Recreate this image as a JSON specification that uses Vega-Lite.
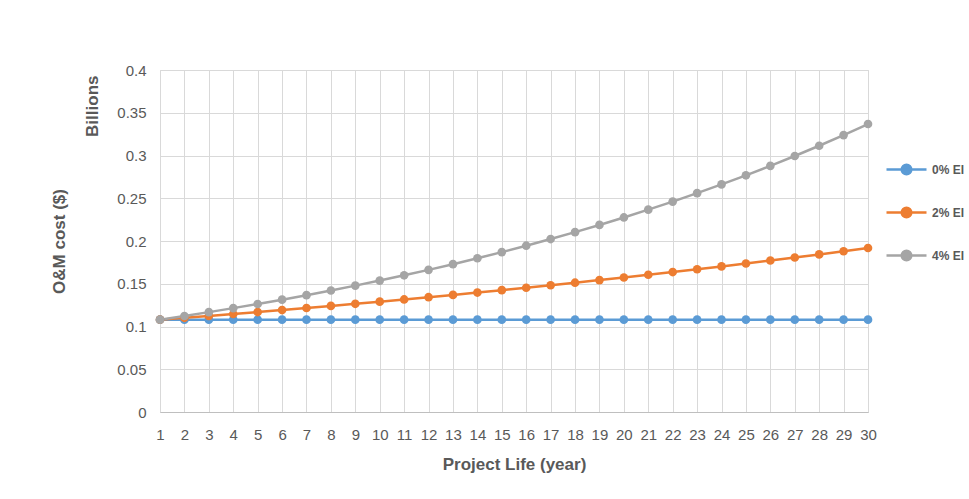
{
  "$schema": "https://vega.github.io/schema/vega-lite/v6.json",
  "width": 708,
  "height": 342,
  "autosize": {"type": "none"},
  "padding": {"left": 160, "top": 70, "right": 101, "bottom": 87},
  "background": "white",
  "config": {
    "font": "Liberation Sans",
    "view": {"stroke": "#d9d9d9", "strokeWidth": 1},
    "axis": {
      "labelColor": "#595959",
      "titleColor": "#595959",
      "labelFontSize": 15,
      "titleFontSize": 17,
      "titleFontWeight": "bold",
      "gridColor": "#d9d9d9",
      "gridWidth": 1,
      "ticks": false
    }
  },
  "data": {
    "values": [
      {"year": 1, "0% EI": 0.108, "2% EI": 0.108, "4% EI": 0.108},
      {"year": 2, "0% EI": 0.108, "2% EI": 0.11016, "4% EI": 0.11232},
      {"year": 3, "0% EI": 0.108, "2% EI": 0.11236, "4% EI": 0.11681},
      {"year": 4, "0% EI": 0.108, "2% EI": 0.11461, "4% EI": 0.12149},
      {"year": 5, "0% EI": 0.108, "2% EI": 0.1169, "4% EI": 0.12634},
      {"year": 6, "0% EI": 0.108, "2% EI": 0.11924, "4% EI": 0.1314},
      {"year": 7, "0% EI": 0.108, "2% EI": 0.12163, "4% EI": 0.13666},
      {"year": 8, "0% EI": 0.108, "2% EI": 0.12406, "4% EI": 0.14212},
      {"year": 9, "0% EI": 0.108, "2% EI": 0.12654, "4% EI": 0.14781},
      {"year": 10, "0% EI": 0.108, "2% EI": 0.12907, "4% EI": 0.15372},
      {"year": 11, "0% EI": 0.108, "2% EI": 0.13165, "4% EI": 0.15987},
      {"year": 12, "0% EI": 0.108, "2% EI": 0.13428, "4% EI": 0.16626},
      {"year": 13, "0% EI": 0.108, "2% EI": 0.13697, "4% EI": 0.17291},
      {"year": 14, "0% EI": 0.108, "2% EI": 0.13971, "4% EI": 0.17983},
      {"year": 15, "0% EI": 0.108, "2% EI": 0.1425, "4% EI": 0.18702},
      {"year": 16, "0% EI": 0.108, "2% EI": 0.14535, "4% EI": 0.1945},
      {"year": 17, "0% EI": 0.108, "2% EI": 0.14826, "4% EI": 0.20228},
      {"year": 18, "0% EI": 0.108, "2% EI": 0.15123, "4% EI": 0.21037},
      {"year": 19, "0% EI": 0.108, "2% EI": 0.15425, "4% EI": 0.21879},
      {"year": 20, "0% EI": 0.108, "2% EI": 0.15734, "4% EI": 0.22754},
      {"year": 21, "0% EI": 0.108, "2% EI": 0.16048, "4% EI": 0.23664},
      {"year": 22, "0% EI": 0.108, "2% EI": 0.16369, "4% EI": 0.2461},
      {"year": 23, "0% EI": 0.108, "2% EI": 0.16697, "4% EI": 0.25595},
      {"year": 24, "0% EI": 0.108, "2% EI": 0.17031, "4% EI": 0.26619},
      {"year": 25, "0% EI": 0.108, "2% EI": 0.17371, "4% EI": 0.27684},
      {"year": 26, "0% EI": 0.108, "2% EI": 0.17719, "4% EI": 0.28791},
      {"year": 27, "0% EI": 0.108, "2% EI": 0.18073, "4% EI": 0.29943},
      {"year": 28, "0% EI": 0.108, "2% EI": 0.18434, "4% EI": 0.3114},
      {"year": 29, "0% EI": 0.108, "2% EI": 0.18803, "4% EI": 0.32386},
      {"year": 30, "0% EI": 0.108, "2% EI": 0.19179, "4% EI": 0.33681}
    ]
  },
  "transform": [
    {"fold": ["0% EI", "2% EI", "4% EI"], "as": ["scenario", "cost"]}
  ],
  "encoding": {
    "x": {
      "field": "year",
      "type": "quantitative",
      "scale": {"domain": [1, 30], "nice": false, "zero": false},
      "axis": {
        "title": "Project Life (year)",
        "values": [1,2,3,4,5,6,7,8,9,10,11,12,13,14,15,16,17,18,19,20,21,22,23,24,25,26,27,28,29,30],
        "format": "d",
        "labelPadding": 15,
        "titlePadding": 14,
        "domainColor": "#bfbfbf",
        "labelFlush": false
      }
    },
    "color": {
      "field": "scenario",
      "type": "nominal",
      "scale": {
        "domain": ["0% EI", "2% EI", "4% EI"],
        "range": ["#5b9bd5", "#ed7d31", "#a5a5a5"]
      },
      "legend": {
        "title": null,
        "orient": "none",
        "legendX": 725,
        "legendY": 78,
        "padding": 0,
        "symbolType": "M-1,0H1M-0.24,0A0.24,0.24,0,1,0,0.24,0A0.24,0.24,0,1,0,-0.24,0Z",
        "symbolSize": 1600,
        "symbolStrokeWidth": 2.5,
        "rowPadding": 11,
        "labelOffset": 4,
        "labelFontSize": 12,
        "labelColor": "#595959",
        "labelFontWeight": "bold",
        "encode": {
          "symbols": {
            "update": {
              "fill": {"scale": "color", "field": "value"},
              "stroke": {"scale": "color", "field": "value"},
              "opacity": {"value": 1}
            }
          }
        }
      }
    }
  },
  "layer": [
    {
      "mark": {"type": "line", "strokeWidth": 2.5},
      "encoding": {
        "y": {
          "field": "cost",
          "type": "quantitative",
          "scale": {"domain": [0, 0.4], "nice": false},
          "axis": {
            "orient": "left",
            "title": "Billions",
            "titleAnchor": "end",
            "titleX": -59,
            "titleY": 5,
            "titleAlign": "right",
            "titleBaseline": "bottom",
            "values": [0, 0.05, 0.1, 0.15, 0.2, 0.25, 0.3, 0.35, 0.4],
            "format": "~g",
            "labelPadding": 14,
            "domain": false
          }
        }
      }
    },
    {
      "mark": {"type": "point", "filled": true, "size": 75, "opacity": 1},
      "encoding": {
        "y": {
          "field": "cost",
          "type": "quantitative",
          "scale": {"domain": [0, 0.4], "nice": false},
          "axis": {
            "orient": "left",
            "title": "O&M cost ($)",
            "titleX": -92,
            "titleY": 171,
            "titleAlign": "center",
            "titleBaseline": "bottom",
            "labels": false,
            "grid": false,
            "domain": false,
            "ticks": false
          }
        }
      }
    }
  ],
  "resolve": {"axis": {"y": "independent"}}
}
